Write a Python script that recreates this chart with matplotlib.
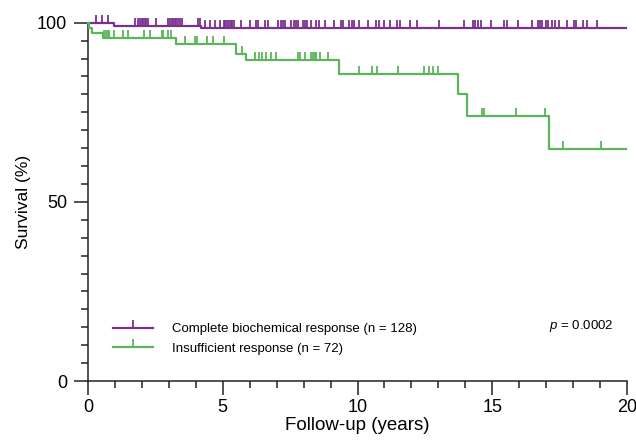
import numpy as np
import matplotlib.pyplot as plt
import matplotlib.transforms as mtransforms
from matplotlib.path import Path
from matplotlib.lines import Line2D
from matplotlib.ticker import MultipleLocator

plt.rcParams['font.family'] = ['Liberation Sans', 'DejaVu Sans']
plt.rcParams['mathtext.fontset'] = 'custom'
plt.rcParams['mathtext.it'] = 'Liberation Sans:italic'
plt.rcParams['mathtext.rm'] = 'Liberation Sans'

# Kaplan-Meier steps (years, survival %)
complete_times = [0, 0.98, 4.21, 19.98]
complete_surv = [100, 99.2, 98.4, 98.4]
insuff_times = [0, 0.03, 0.15, 0.57, 3.28, 5.48, 5.88, 9.30, 13.72, 14.05, 17.11, 19.98]
insuff_surv = [100, 98.6, 97.2, 95.8, 94.0, 91.4, 89.6, 85.8, 80.0, 74.0, 64.8, 64.8]

# censored observations
complete_censor = [0.30, 0.53, 0.73, 1.74, 1.86, 1.93, 1.99, 2.05, 2.11, 2.17, 2.23, 2.54,
                   2.98, 3.04, 3.10, 3.16, 3.22, 3.28, 3.35, 3.41, 3.47, 4.09, 4.15, 4.33,
                   4.52, 4.70, 4.89, 5.05, 5.10, 5.17, 5.22, 5.30, 5.35, 5.42, 5.69, 6.00,
                   6.25, 6.31, 6.56, 6.68, 7.05, 7.15, 7.23, 7.32, 7.54, 7.64, 7.73, 7.79,
                   7.97, 8.06, 8.14, 8.28, 8.47, 8.56, 8.80, 9.12, 9.37, 9.46, 9.70, 9.79,
                   9.86, 10.07, 10.38, 10.69, 10.81, 10.97, 11.19, 11.47, 11.56, 11.96,
                   12.21, 13.04, 13.96, 14.27, 14.36, 14.46, 14.60, 14.95, 15.44, 15.54,
                   15.96, 16.46, 16.70, 16.78, 16.86, 16.99, 17.07, 17.20, 17.32, 17.48,
                   17.77, 18.04, 18.10, 18.38, 18.53, 18.88]
insuff_censor = [0.60, 0.66, 0.73, 0.78, 0.97, 1.31, 1.49, 2.09, 2.30, 2.73, 2.79, 2.97,
                 3.07, 3.59, 3.96, 4.03, 4.40, 4.64, 5.05, 5.72, 6.21, 6.33, 6.46, 6.62,
                 6.80, 6.99, 7.79, 7.85, 8.04, 8.28, 8.34, 8.41, 8.47, 8.62, 8.90, 10.05,
                 10.54, 10.71, 11.49, 12.48, 12.64, 12.79, 12.97, 14.62, 14.70, 15.88,
                 16.96, 17.63, 19.04]

labels = ['Complete biochemical response (n = 128)', 'Insufficient response (n = 72)']
colors = ['#7d2f8e', '#5cb45c']

# upward-only censor tick
tick_marker = Path([(0, 0), (0, 1)], [Path.MOVETO, Path.LINETO])


def step_at(times, surv, t):
    idx = np.searchsorted(times, t, side='right') - 1
    return np.array(surv)[idx]


fig = plt.figure(figsize=(6.36, 4.43), dpi=100)
ax = fig.add_axes([88 / 636, 1 - 381 / 443, 539 / 636, (381 - 22.7) / 443])

series = [(complete_times, complete_surv, complete_censor),
          (insuff_times, insuff_surv, insuff_censor)]
handles = []
for (t, s, c), col, lab in zip(series, colors, labels):
    ax.plot(t, s, drawstyle='steps-post', color=col, lw=1.6, clip_on=False, zorder=3)
    ax.plot(c, step_at(t, s, c), linestyle='none', marker=tick_marker,
            markersize=11, markeredgewidth=1.3, color=col, clip_on=False, zorder=3)
    handles.append(Line2D([], [], color=col, lw=1.6, marker=tick_marker,
                          markersize=11, markeredgewidth=1.3))

ax.set_xlim(0, 20)
ax.set_ylim(0, 100)
ax.xaxis.set_major_locator(MultipleLocator(5))
ax.xaxis.set_minor_locator(MultipleLocator(1))
ax.yaxis.set_major_locator(MultipleLocator(50))
ax.yaxis.set_minor_locator(MultipleLocator(5))
for side in ['top', 'right']:
    ax.spines[side].set_visible(False)
for side in ['left', 'bottom']:
    ax.spines[side].set_linewidth(1.1)
    ax.spines[side].set_color('#222222')
ax.tick_params(which='major', length=10, width=1.1, labelsize=13, color='#222222')
ax.tick_params(which='minor', length=5, width=1.1, color='#222222')
ax.tick_params(axis='y', pad=5)
ax.tick_params(axis='x', pad=3)

ax.set_xlabel('Follow-up (years)', fontsize=13.5, labelpad=1)
ax.set_ylabel('Survival (%)', fontsize=12.5, labelpad=4)

# nudge the last x tick label so it stays inside the figure
last = ax.xaxis.get_major_ticks()[-1].label1
last.set_transform(last.get_transform() +
                   mtransforms.ScaledTranslation(-5 / 100, 0, fig.dpi_scale_trans))

fig.legend(handles, labels, loc='upper left', bbox_to_anchor=(113 / 636, 1 - 323 / 443),
           frameon=False, fontsize=9.5, handlelength=3.0, handletextpad=1.5,
           borderpad=0, borderaxespad=0, labelspacing=0.55, numpoints=1)
fig.text(614 / 636, 1 - 326 / 443, r'$\it{p}$ = 0.0002', ha='right', va='center', fontsize=9.5)

fig.savefig('out.png', dpi=100)
